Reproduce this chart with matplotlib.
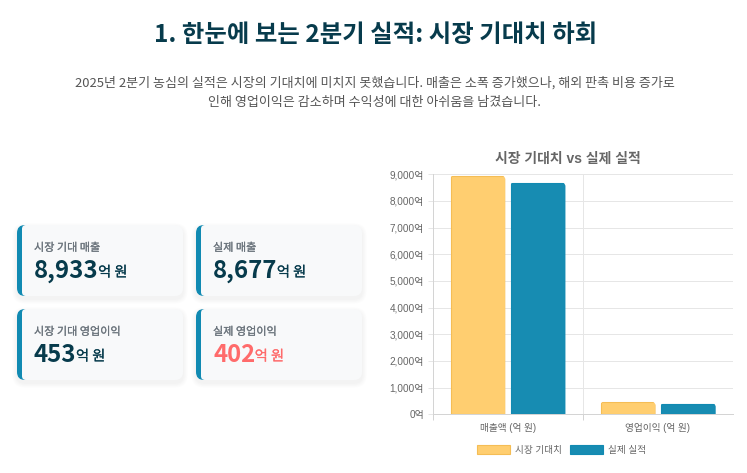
import matplotlib
matplotlib.use("Agg")
import matplotlib.pyplot as plt
import matplotlib.patheffects as pe
from matplotlib.patches import FancyBboxPatch, Patch, Rectangle
from matplotlib.path import Path
from matplotlib.transforms import IdentityTransform
from matplotlib.ticker import FuncFormatter, MultipleLocator, FixedLocator

KR = ['Noto Sans CJK KR', 'DejaVu Sans']
CHART = ['Liberation Sans', 'Noto Sans CJK KR']
W, H = 747, 473
PX = 72 / 100

title = "1. 한눈에 보는 2분기 실적: 시장 기대치 하회"
subtitle = ["2025년 2분기 농심의 실적은 시장의 기대치에 미치지 못했습니다. 매출은 소폭 증가했으나, 해외 판촉 비용 증가로",
            "인해 영업이익은 감소하며 수익성에 대한 아쉬움을 남겼습니다."]
card_labels = ["시장 기대 매출", "실제 매출", "시장 기대 영업이익", "실제 영업이익"]
card_values = ["8,933", "8,677", "453", "402"]
card_unit = "억 원"
categories = ["매출액 (억 원)", "영업이익 (억 원)"]
expected = [8933, 453]
actual = [8677, 402]
series_names = ["시장 기대치", "실제 실적"]
chart_title = "시장 기대치 vs 실제 실적"

NAVY, RED, TEAL, YEL = "#073b4c", "#ff6b6b", "#178cb2", "#ffce70"
TEAL_E, YEL_E = "#118ab2", "#f5bd55"

fig = plt.figure(figsize=(W / 100, H / 100), dpi=100, facecolor="white")
bg = fig.add_axes([0, 0, 1, 1], zorder=0)
bg.set_xlim(0, W); bg.set_ylim(H, 0); bg.axis("off")

bg.text(375.5, 35, title, ha="center", va="center", family=KR, weight="bold",
        fontsize=24.4 * PX, color=NAVY)
for yy, line in zip((83, 102), subtitle):
    bg.text(375, yy, line, ha="center", va="center", family=KR, fontsize=13.0 * PX, color="#555555")

def medium(col):
    return [pe.withStroke(linewidth=0.15, foreground=col)]

def rbox(x, y, w, h, r, **kw):
    return bg.add_patch(FancyBboxPatch((x + r, y + r), w - 2 * r, h - 2 * r,
                        boxstyle="round,pad=%g,rounding_size=%g" % (r, r), lw=0, **kw))

renderer = fig.canvas.get_renderer()
card_x = [17, 196, 17, 196]
card_y = [225, 225, 309, 309]
CW, CH = 166, 71
for i, (cx, cy) in enumerate(zip(card_x, card_y)):
    for k in range(6, 0, -1):
        rbox(cx - k * .8, cy + 3 - k * .8, CW + k * 1.6, CH + k * 1.6, 8 + k * .8, fc="#000000", alpha=0.007, zorder=1)
    rbox(cx, cy, CW, CH, 8, fc="#f8f9fa", zorder=2)
    band = rbox(cx, cy, CW, CH, 8, fc=TEAL_E, zorder=2.1)
    band.set_clip_path(Rectangle((cx, cy), 9, CH, transform=bg.transData))
    rbox(cx + 5, cy, 30, CH, 4, fc="#f8f9fa", zorder=2.2)
    bg.text(cx + 17, cy + 23, card_labels[i], family=KR, fontsize=11.1 * PX, color="#6c757d",
            va="center", ha="left", zorder=3, path_effects=medium("#6c757d"))
    col = RED if i == 3 else NAVY
    t = bg.text(cx + 17, cy + 46, card_values[i], family=KR, fontsize=24 * PX, weight="bold", color=col,
                va="center", ha="left", zorder=3)
    x1 = bg.transData.inverted().transform(t.get_window_extent(renderer).get_points())[1][0]
    bg.text(x1 - 0.5, cy + 47.5, card_unit, family=KR, fontsize=14.2 * PX, color=col,
            va="center", ha="left", zorder=3, path_effects=medium(col))

ax = fig.add_axes([432.5 / W, 1 - 414.3 / H, (733 - 432.5) / W, (414.3 - 174.3) / H], zorder=2)
ax.patch.set_alpha(0)
ax.set_xlim(-0.5, 1.5)
ax.set_ylim(0, 9000)
GRID = "#e6e6e6"
EDGE = "#d4d4d4"
for s in ("top", "right"):
    ax.spines[s].set_visible(False)
for s in ("left", "bottom"):
    ax.spines[s].set_color(EDGE); ax.spines[s].set_linewidth(1 * PX)
ax.yaxis.set_major_locator(MultipleLocator(1000))
ax.yaxis.set_major_formatter(FuncFormatter(lambda v, p: f"{int(v):,}억"))
ax.set_xticks(range(len(categories)))
ax.set_xticklabels(categories)
ax.xaxis.set_minor_locator(FixedLocator([-0.5, 0.5]))
ax.tick_params(axis="x", which="major", length=0, pad=6)
ax.tick_params(axis="x", which="minor", length=6 * PX, color=EDGE, width=PX)
ax.tick_params(axis="y", length=5.5 * PX, color=GRID, width=PX, pad=3 * PX)
for lab in ax.get_xticklabels():
    lab.set_family(CHART); lab.set_fontsize(9.7 * PX); lab.set_color("#666666")
for lab in ax.get_yticklabels():
    lab.set_family(CHART); lab.set_fontsize(10 * PX); lab.set_color("#666666")
ax.grid(True, axis="y", color=GRID, lw=PX, zorder=0)
ax.grid(True, axis="x", which="minor", color=GRID, lw=PX, zorder=0)
ax.set_axisbelow(True)
bg.text(567.5, 158.5, chart_title, ha="center", va="center", family=CHART, weight="bold",
        fontsize=13.9 * PX, color="#666666")

BW = 0.36
def rounded_top(bar, radius=4):
    tr = ax.transData
    x0, y0 = tr.transform((bar.get_x(), 0))
    x1, y1 = tr.transform((bar.get_x() + bar.get_width(), bar.get_height()))
    e = 0.6
    x0 -= e; x1 += e; y1 += e
    r = radius
    k = 0.55 * r
    verts = [(x0, y0), (x0, y1 - r), (x0, y1 - r + k), (x0 + r - k, y1), (x0 + r, y1), (x1 - r, y1),
             (x1 - r + k, y1), (x1, y1 - r + k), (x1, y1 - r), (x1, y0), (x0, y0)]
    codes = [Path.MOVETO, Path.LINETO, Path.CURVE4, Path.CURVE4, Path.CURVE4, Path.LINETO,
             Path.CURVE4, Path.CURVE4, Path.CURVE4, Path.LINETO, Path.CLOSEPOLY]
    bar.set_clip_path(Path(verts, codes), transform=IdentityTransform())

xs = list(range(len(categories)))
for offset, vals, fc, ec in ((-0.2, expected, YEL, YEL_E), (0.2, actual, TEAL, TEAL_E)):
    bars = ax.bar([x + offset for x in xs], vals, width=BW, color=fc, edgecolor=ec, linewidth=0.8, zorder=3)
    for b in bars:
        rounded_top(b)

handles = [Patch(fc=YEL, ec=YEL_E, lw=0.8), Patch(fc=TEAL, ec=TEAL_E, lw=0.8)]
fs = 9.6
leg = fig.legend(handles, series_names, loc="center", bbox_to_anchor=(562 / W, 1 - 450 / H), ncol=2, frameon=False,
                 prop={"family": CHART, "size": fs * PX}, labelcolor="#666666", handlelength=33 / fs,
                 handleheight=10 / fs, handletextpad=5 / fs, columnspacing=8 / fs, borderpad=0, borderaxespad=0)
fig.savefig("out.png", dpi=100)
